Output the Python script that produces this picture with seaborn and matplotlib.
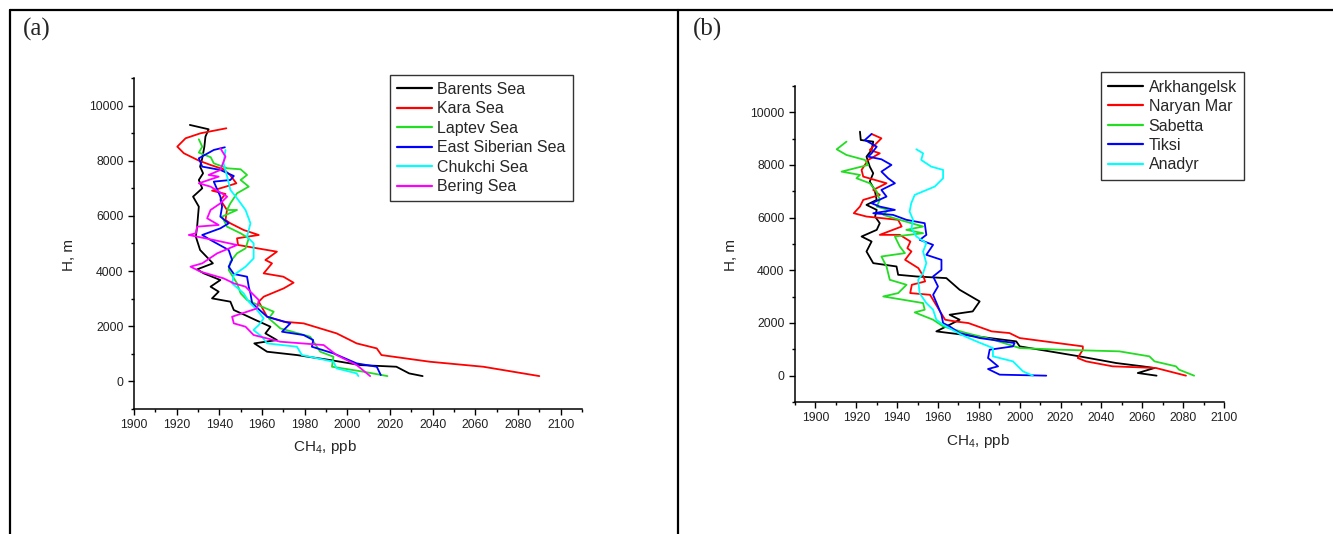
import numpy as np
import pandas as pd
import seaborn as sns
import matplotlib.pyplot as plt
from matplotlib.lines import Line2D
from matplotlib.ticker import MultipleLocator

# ---- panel (a): seas, CH4 (ppb) vs altitude (m)
barents_ch4 = [1926.2, 1935, 1933.5, 1933, 1932, 1931, 1932.4, 1930.4, 1932, 1927.7, 1930.4, 1930, 1929.6, 1929,
               1931, 1934, 1937, 1929.6, 1932.7, 1940.5, 1935.9, 1939.7, 1936.6, 1945.2, 1946.8, 1952, 1957, 1964,
               1961.6, 1967, 1956.4, 1962.4, 1976.4, 1992, 2006, 2023, 2029, 2035.3]
barents_h = [9297, 9140, 8874, 8511, 8088, 7786, 7544, 7302, 7000, 6698, 6335, 5973, 5610, 5247,
             4763, 4522, 4280, 4062, 3917, 3675, 3434, 3252, 3010, 2890, 2587, 2406, 2225, 1983,
             1741, 1499, 1378, 1076, 955, 774, 592, 532, 290, 193]

kara_ch4 = [1943.3, 1931.2, 1924.2, 1920.3, 1923.4, 1930.4, 1935.9, 1942, 1945, 1948, 1942, 1936.6, 1942.9, 1940.5,
            1943.6, 1942.9, 1945.2, 1951.4, 1958.5, 1948.3, 1948.8, 1967, 1961.6, 1964.7, 1960.8, 1970, 1974.8,
            1970.2, 1960.8, 1958.5, 1962.4, 1970.2, 1979.5, 1995, 2004.4, 2013.8, 2016, 2038.7, 2063.7, 2090]
kara_h = [9176, 8995, 8814, 8511, 8270, 8004, 7846, 7689, 7484, 7181, 7036, 6915, 6794, 6577,
          6214, 5852, 5731, 5489, 5308, 5187, 4945, 4703, 4401, 4280, 3917, 3796, 3579,
          3373, 3071, 2890, 2345, 2164, 2104, 1741, 1378, 1197, 955, 713, 532, 193]

laptev_ch4 = [1930.4, 1932, 1930.4, 1936, 1937.4, 1943.7, 1950, 1953, 1950, 1953.8, 1948.3, 1945.2, 1943.6, 1948.3,
              1941.3, 1943.6, 1950, 1953.8, 1952.3, 1948.3, 1945.2, 1944.4, 1948.3, 1950, 1953, 1960, 1965.5,
              1963.2, 1968.6, 1982.6, 1987.3, 1993.5, 1992.8, 2007.6, 2018.8]
laptev_h = [8777, 8511, 8294, 8125, 7907, 7726, 7689, 7484, 7302, 7061, 6819, 6456, 6214, 6214,
            5973, 5610, 5368, 5187, 4824, 4643, 4340, 4038, 3555, 3192, 2950, 2708, 2527,
            2285, 1922, 1620, 1076, 895, 532, 351, 193]

esib_ch4 = [1942.6, 1937.4, 1930.4, 1932, 1940.5, 1946.8, 1945.2, 1937.4, 1940.5, 1941.3, 1940.5, 1944.4, 1940.5,
            1932, 1935.9, 1944.4, 1946, 1944.4, 1946.8, 1953, 1953.8, 1954.6, 1955.4, 1962.4, 1973.3, 1969.4,
            1979.5, 1984, 1983.4, 1993.5, 2004.4, 2013.8, 2015.7]
esib_h = [8487, 8390, 8088, 7786, 7665, 7447, 7302, 7242, 6698, 6335, 5973, 5731, 5549,
          5308, 5126, 4763, 4401, 4159, 3893, 3796, 3434, 3192, 2829, 2345, 2104, 1801,
          1681, 1499, 1257, 1016, 653, 532, 230]

chukchi_ch4 = [1942.9, 1942, 1943.7, 1945.2, 1948.3, 1952.3, 1954.6, 1953, 1956.1, 1956.1, 1952.3, 1946.8, 1946,
               1951.4, 1953.8, 1957.7, 1960.8, 1958.5, 1956, 1960, 1962.4, 1976.4, 1978.7, 1993.5, 1995, 2004.4,
               2005.2]
chukchi_h = [8390, 7907, 7423, 6940, 6638, 6214, 5731, 5247, 5005, 4461, 4159, 3857, 3555,
             3192, 2890, 2587, 2285, 2043, 1862, 1620, 1378, 1257, 955, 713, 472, 290,
             193]

bering_ch4 = [1940.5, 1942.9, 1940.5, 1935, 1939.7, 1930.4, 1935.9, 1943.7, 1940.5, 1935.9, 1934.3, 1939.7, 1929.6,
              1929, 1925.7, 1937.4, 1948.3, 1939, 1932, 1926.5, 1931.2, 1942, 1946.8, 1952.3, 1954.6, 1958.5,
              1957.7, 1946, 1946.8, 1952.3, 1956.1, 1968.6, 1988.9, 1995, 2004.4, 2010.7]
bering_h = [8451, 8149, 7665, 7484, 7423, 7181, 7061, 6698, 6456, 6214, 5912, 5670, 5610,
            5368, 5308, 5126, 4945, 4643, 4280, 4159, 3978, 3736, 3555, 3434, 3252, 2950,
            2648, 2345, 2104, 1983, 1681, 1439, 1318, 955, 592, 193]

# ---- panel (b): stations
arkh_ch4 = [1921.8, 1922.2, 1928.3, 1927.5, 1925, 1926.6, 1928.3, 1926.6, 1929, 1930, 1925, 1930, 1929.2, 1931.5,
            1930, 1922.6, 1927.5, 1925, 1928.3, 1939.7, 1940.5, 1949.4, 1964.1, 1970.6, 1980.4, 1977, 1965.7,
            1970.6, 1959.2, 1978.8, 1998.3, 2000, 2014.6, 2029.3, 2047.2, 2060.2, 2066, 2057.8, 2067]
arkh_h = [9265, 8949, 8886, 8570, 8317, 7938, 7685, 7369, 7053, 6674, 6484, 6295, 6042, 5789,
          5536, 5284, 5094, 4715, 4272, 4146, 3830, 3767, 3704, 3261, 2819, 2440, 2313,
          2124, 1681, 1492, 1302, 1112, 923, 733, 480, 354, 291, 101, 0]

naryan_ch4 = [1927.5, 1932.3, 1926.6, 1931.5, 1925.8, 1922.6, 1923.4, 1934.8, 1928.3, 1931.5, 1923.4, 1921.8, 1918.8,
              1925, 1940.5, 1942.2, 1931.5, 1941.3, 1946.5, 1945, 1947, 1943.9, 1950.4, 1952.9, 1953.7, 1947.2,
              1946.4, 1956.1, 1961, 1963.5, 1968.4, 1974.9, 1986.3, 1995, 2000, 2030.9, 2030.9, 2028.4, 2032.5,
              2045.5, 2066.7, 2081.4]
naryan_h = [9177, 9012, 8570, 8443, 8191, 7812, 7559, 7306, 7053, 6863, 6674, 6421, 6168,
            6042, 5916, 5663, 5347, 5347, 5094, 4841, 4715, 4399, 4083, 3767, 3577, 3451,
            3135, 3071, 2440, 2124, 2060, 1997, 1681, 1618, 1428, 1112, 986, 670, 543,
            354, 291, 0]

sabetta_ch4 = [1915.2, 1910.4, 1915.2, 1924.2, 1925.8, 1912.8, 1921.8, 1920.1, 1926.6, 1930, 1931.5, 1930, 1935.6,
               1933.2, 1941.3, 1952.7, 1944.5, 1952.7, 1938.9, 1941.3, 1943.8, 1932.3, 1934.8, 1936.4, 1944.6,
               1940.5, 1933.2, 1952.7, 1953.5, 1948.6, 1957.6, 1962.5, 1973.9, 1987, 2000, 2019.5, 2048.8, 2063.5,
               2066, 2076.5, 2078, 2085.4]
sabetta_h = [8886, 8595, 8380, 8191, 8001, 7748, 7622, 7496, 7306, 6990, 6674, 6421, 6295,
             6105, 5916, 5663, 5536, 5410, 5284, 4904, 4652, 4525, 4146, 3640, 3451,
             3135, 3008, 2756, 2503, 2402, 2124, 1871, 1618, 1365, 1049, 986, 923, 733,
             543, 354, 228, 0]

tiksi_ch4 = [1927.5, 1924.2, 1930, 1927.5, 1925.8, 1932.3, 1937.2, 1932.3, 1935.6, 1938.9, 1932.3, 1934.8, 1927.5,
             1931.5, 1938.9, 1928.3, 1938, 1944.6, 1953.5, 1954.3, 1951.1, 1957.6, 1954.3, 1961.7, 1961.7, 1957.6,
             1960, 1957.6, 1960, 1961.7, 1962.5, 1965.7, 1970.6, 1980.4, 1997.5, 1996.7, 1985.3, 1984.5, 1989.4,
             1984.5, 1990.2, 2013]
tiksi_h = [9177, 8949, 8696, 8443, 8317, 8216, 8001, 7748, 7496, 7306, 7053, 6800, 6547,
           6421, 6295, 6168, 6105, 5916, 5789, 5347, 5157, 4967, 4588, 4399, 4020, 3767,
           3388, 3071, 2629, 2313, 1997, 1871, 1618, 1428, 1239, 1112, 986, 670, 354,
           253, 38, 0]

anadyr_ch4 = [1949.4, 1952.7, 1951.8, 1956.7, 1962.5, 1962.5, 1958.4, 1948.6, 1946.9, 1946.1, 1947.8, 1947, 1949.4,
              1954.3, 1952.7, 1954.3, 1952.7, 1950.3, 1951, 1954.3, 1957.6, 1959.2, 1962.5, 1971.4, 1978.8, 1986.9,
              1986.9, 1996.7, 2001.6, 2006.4]
anadyr_h = [8595, 8443, 8191, 7938, 7812, 7496, 7180, 6863, 6547, 6232, 5916, 5600, 5284,
            5031, 4715, 4272, 3893, 3640, 3135, 2756, 2503, 2124, 1934, 1555, 1302, 1049,
            733, 543, 164, 0]

seas = ["Barents Sea", "Kara Sea", "Laptev Sea", "East Siberian Sea", "Chukchi Sea", "Bering Sea"]
stations = ["Arkhangelsk", "Naryan Mar", "Sabetta", "Tiksi", "Anadyr"]
colors_a = ["black", "#ff0000", "#22dd22", "#0000ff", "#00ffff", "#ff00ff"]
colors_b = ["black", "#ff0000", "#22dd22", "#0000ff", "#00ffff"]


def to_long(names, xs, ys):
    parts = []
    for n, x, y in zip(names, xs, ys):
        parts.append(pd.DataFrame({"ch4": x, "h": y, "site": n}))
    return pd.concat(parts, ignore_index=True)


df_a = to_long(seas, [barents_ch4, kara_ch4, laptev_ch4, esib_ch4, chukchi_ch4, bering_ch4],
               [barents_h, kara_h, laptev_h, esib_h, chukchi_h, bering_h])
df_b = to_long(stations, [arkh_ch4, naryan_ch4, sabetta_ch4, tiksi_ch4, anadyr_ch4],
               [arkh_h, naryan_h, sabetta_h, tiksi_h, anadyr_h])

sns.set_style("ticks")
plt.rcParams["font.family"] = ["Liberation Sans", "DejaVu Sans"]
plt.rcParams["mathtext.fontset"] = "custom"
plt.rcParams["mathtext.rm"] = "Liberation Sans"

fig = plt.figure(figsize=(13.33, 5.34), dpi=100)
ax1 = fig.add_axes([0.1005, 0.2341, 0.3361, 0.6199])
ax2 = fig.add_axes([0.5964, 0.2472, 0.3218, 0.5918])

sns.lineplot(data=df_a, x="ch4", y="h", hue="site", hue_order=seas, palette=colors_a,
             sort=False, estimator=None, lw=1.3, ax=ax1)
sns.lineplot(data=df_b, x="ch4", y="h", hue="site", hue_order=stations, palette=colors_b,
             sort=False, estimator=None, lw=1.3, ax=ax2)

for ax, xlim in [(ax1, (1900, 2110)), (ax2, (1890, 2100))]:
    ax.set_xlim(*xlim)
    ax.set_ylim(-1000, 11000)
    ax.xaxis.set_major_locator(MultipleLocator(20))
    ax.xaxis.set_minor_locator(MultipleLocator(10))
    ax.yaxis.set_major_locator(MultipleLocator(2000))
    ax.yaxis.set_minor_locator(MultipleLocator(1000))
    ax.set_yticks([0, 2000, 4000, 6000, 8000, 10000])
    ax.tick_params(which="major", length=4, width=1, labelsize=8.8, colors="black", labelcolor="#222222")
    ax.tick_params(which="minor", length=2.5, width=1, colors="black")
    sns.despine(ax=ax)
    for s in ["left", "bottom"]:
        ax.spines[s].set_linewidth(1.1)
        ax.spines[s].set_color("black")
    ax.set_xlabel("CH$_4$, ppb", fontsize=11)
    ax.set_ylabel("H, m", fontsize=11)

ax1.set_xticks(np.arange(1900, 2101, 20))
ax2.set_xticks(np.arange(1900, 2101, 20))
ax1.xaxis.set_label_coords(0.426, -0.088)
ax1.yaxis.set_label_coords(-0.129, 0.466)
ax2.xaxis.set_label_coords(0.427, -0.095)
ax2.yaxis.set_label_coords(-0.132, 0.466)

leg_kw = dict(title=None, frameon=True, fancybox=False, fontsize=11.5, handlelength=2.2,
              handletextpad=0.35, labelspacing=0.28, borderpad=0.45, borderaxespad=0)
sns.move_legend(ax1, "upper right", bbox_to_anchor=(0.98, 1.01), **leg_kw)
sns.move_legend(ax2, "upper right", bbox_to_anchor=(1.047, 1.043), **leg_kw)
for ax in (ax1, ax2):
    fr = ax.get_legend().get_frame()
    fr.set_edgecolor("black")
    fr.set_linewidth(1.0)
    for ln in ax.get_legend().get_lines():
        ln.set_linewidth(1.6)

# panel frames and labels
frame = dict(color="black", lw=1.6, transform=fig.transFigure)
fig.add_artist(Line2D([9.5 / 1333, 1333 / 1333], [1 - 9.5 / 534, 1 - 9.5 / 534], **frame))
fig.add_artist(Line2D([9.5 / 1333, 9.5 / 1333], [0, 1 - 9.5 / 534], **frame))
fig.add_artist(Line2D([677.5 / 1333, 677.5 / 1333], [0, 1 - 9.5 / 534], **frame))
fig.text(23 / 1333, 1 - 29 / 534, "(a)", fontsize=18, family="Liberation Serif", va="center")
fig.text(693 / 1333, 1 - 29 / 534, "(b)", fontsize=18, family="Liberation Serif", va="center")

plt.savefig("out.png", dpi=100)
